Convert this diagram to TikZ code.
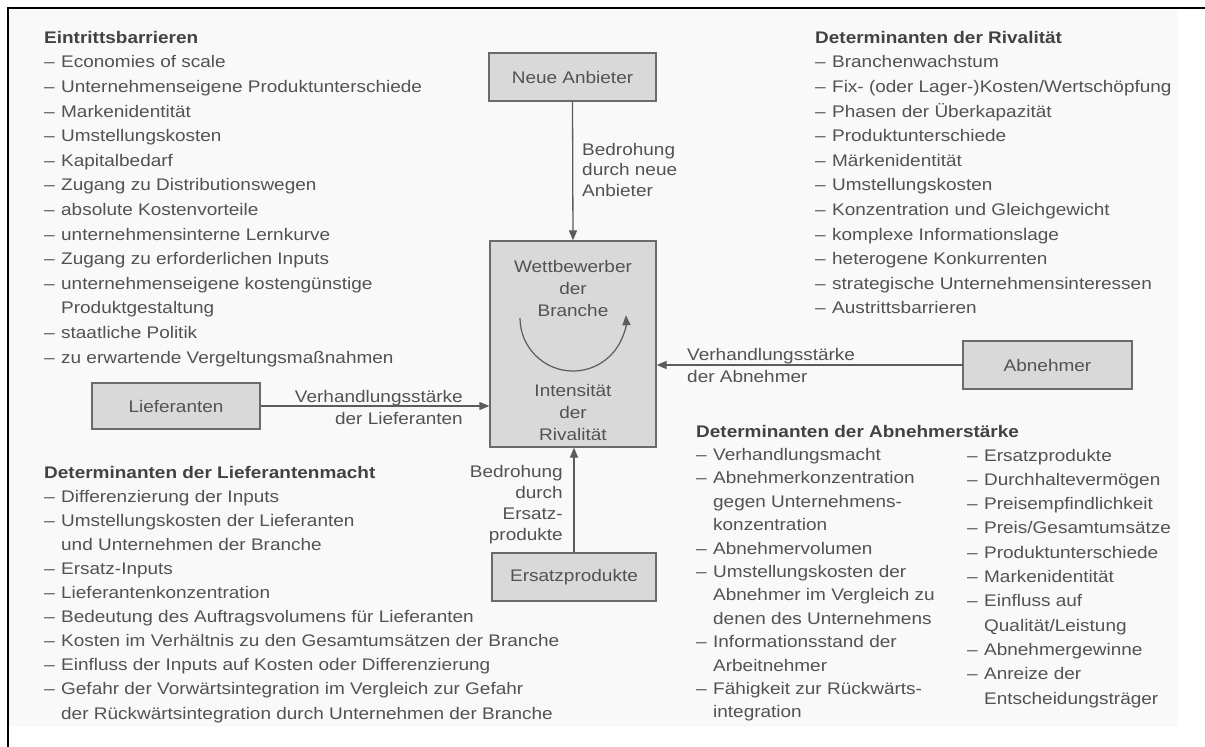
\documentclass[tikz,border=0pt]{standalone}
\usepackage{fontspec}
\setmainfont{Liberation Sans}[FakeStretch=1.13]
\usetikzlibrary{arrows.meta}

\definecolor{ink}{gray}{0.32}
\definecolor{headink}{gray}{0.26}
\definecolor{boxfill}{gray}{0.85}
\definecolor{boxline}{gray}{0.42}
\definecolor{linegray}{gray}{0.36}
\definecolor{paper}{gray}{0.975}

% list of bullet lines: dash column + text column, fixed line pitch
\newcommand\dashlist[2]{%
  \fontsize{16.8}{#1}\selectfont
  \begin{tabular}[t]{@{}l@{\hspace{6.4pt}}l@{}}#2\end{tabular}}
\newcommand\head[1]{\multicolumn{2}{@{}l@{}}{\color{headink}\bfseries #1}}
\newcommand\lines[3]{%
  \fontsize{16.8}{#1}\selectfont
  \begin{tabular}[t]{@{}#2@{}}#3\end{tabular}}

\tikzset{
  txt/.style={inner sep=0pt, text=ink},
  force/.style={draw=boxline, line width=1.3pt, fill=boxfill, inner sep=0pt,
    minimum width=167pt, minimum height=48pt, text=ink,
    font=\fontsize{16.8}{20}\selectfont},
  arr/.style={draw=linegray, line width=1.3pt,
    -{Triangle[length=10pt,width=8pt]}},
}

\begin{document}
\begin{tikzpicture}[x=1pt,y=-1pt]
\useasboundingbox (0,0) rectangle (1205,747);
\fill[paper] (9,9) rectangle (1178,727);
\draw[line width=2pt] (8,747) -- (8,8) -- (1205,8);

% the five forces
\node[force] (N) at (572.5,77) {Neue Anbieter};
\node[force, minimum width=166pt, minimum height=206pt] (W) at (573,344) {};
\node[force, minimum width=168pt, minimum height=46pt] (L) at (176,406) {Lieferanten};
\node[force, minimum width=164pt] (E) at (574,577) {Ersatzprodukte};
\node[force, minimum width=169pt] (A) at (1047.5,365) {Abnehmer};

% rivalry inside the central box
\node[txt, anchor=base] (wt) at (573,272) {\lines{22}{c}{Wettbewerber\\der\\Branche}};
\node[txt, anchor=base] (wb) at (573,396) {\lines{22}{c}{Intensität\\der\\Rivalität}};
\coordinate (arcstart) at (520,318);
\draw[arr, line width=1.2pt] (arcstart) arc[start angle=180, end angle=-3, radius=53];

% connectors
\draw[arr] (N.south) -- (W.north);
\draw[arr] (L.east) -- (L.east -| W.west);
\draw[arr] (A.west) -- (A.west -| W.east);
\draw[arr] (E.north) -- (E.north |- W.south);

% connector labels
\node[txt, anchor=base west] (ln) at (582,155) {\lines{20.5}{l}{Bedrohung\\durch neue\\Anbieter}};
\node[txt, anchor=base east] (le) at (563,477) {\lines{21}{r}{Bedrohung\\durch\\Ersatz-\\produkte}};
\node[txt, anchor=base east] (ll) at (463,402.7) {\lines{21.6}{r}{Verhandlungsstärke\\der Lieferanten}};
\node[txt, anchor=base west] (la) at (687,360) {\lines{22}{l}{Verhandlungsstärke\\der Abnehmer}};

% determinant lists
\node[txt, anchor=base west] (eb) at (44,43.3) {\dashlist{24.6}{%
  \head{Eintrittsbarrieren}\\
  – & Economies of scale\\
  – & Unternehmenseigene Produktunterschiede\\
  – & Markenidentität\\
  – & Umstellungskosten\\
  – & Kapitalbedarf\\
  – & Zugang zu Distributionswegen\\
  – & absolute Kostenvorteile\\
  – & unternehmensinterne Lernkurve\\
  – & Zugang zu erforderlichen Inputs\\
  – & unternehmenseigene kostengünstige\\
    & Produktgestaltung\\
  – & staatliche Politik\\
  – & zu erwartende Vergeltungsmaßnahmen}};

\node[txt, anchor=base west] (dr) at (815,43.3) {\dashlist{24.6}{%
  \head{Determinanten der Rivalität}\\
  – & Branchenwachstum\\
  – & Fix- (oder Lager-)Kosten/Wertschöpfung\\
  – & Phasen der Überkapazität\\
  – & Produktunterschiede\\
  – & Märkenidentität\\
  – & Umstellungskosten\\
  – & Konzentration und Gleichgewicht\\
  – & komplexe Informationslage\\
  – & heterogene Konkurrenten\\
  – & strategische Unternehmensinteressen\\
  – & Austrittsbarrieren}};

\node[txt, anchor=base west] (dl) at (44,478) {\dashlist{24.1}{%
  \head{Determinanten der Lieferantenmacht}\\
  – & Differenzierung der Inputs\\
  – & Umstellungskosten der Lieferanten\\
    & und Unternehmen der Branche\\
  – & Ersatz-Inputs\\
  – & Lieferantenkonzentration\\
  – & Bedeutung des Auftragsvolumens für Lieferanten\\
  – & Kosten im Verhältnis zu den Gesamtumsätzen der Branche\\
  – & Einfluss der Inputs auf Kosten oder Differenzierung\\
  – & Gefahr der Vorwärtsintegration im Vergleich zur Gefahr\\
    & der Rückwärtsintegration durch Unternehmen der Branche}};

\node[txt, anchor=base west] (da) at (696,437) {\dashlist{23.4}{%
  \head{Determinanten der Abnehmerstärke}\\
  – & Verhandlungsmacht\\
  – & Abnehmerkonzentration\\
    & gegen Unternehmens-\\
    & konzentration\\
  – & Abnehmervolumen\\
  – & Umstellungskosten der\\
    & Abnehmer im Vergleich zu\\
    & denen des Unternehmens\\
  – & Informationsstand der\\
    & Arbeitnehmer\\
  – & Fähigkeit zur Rückwärts-\\
    & integration}};

\node[txt, anchor=base west] (db) at (967,461) {\dashlist{24.3}{%
  – & Ersatzprodukte\\
  – & Durchhaltevermögen\\
  – & Preisempfindlichkeit\\
  – & Preis/Gesamtumsätze\\
  – & Produktunterschiede\\
  – & Markenidentität\\
  – & Einfluss auf\\
    & Qualität/Leistung\\
  – & Abnehmergewinne\\
  – & Anreize der\\
    & Entscheidungsträger}};
\end{tikzpicture}
\end{document}
